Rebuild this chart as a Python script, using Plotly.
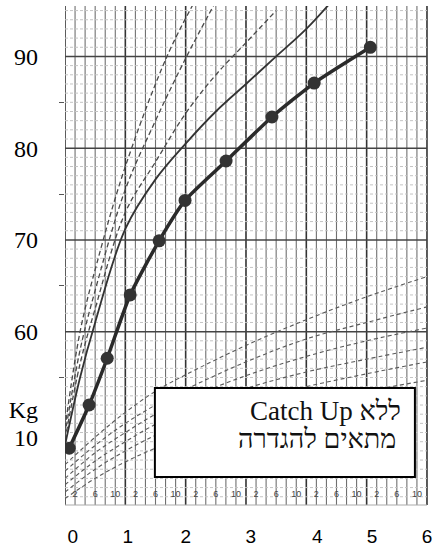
import plotly.graph_objects as go

# ---------------- data ----------------
# patient (ages in years, height in cm)
patient_age = [0.07, 0.40, 0.70, 1.08, 1.56, 1.99, 2.67, 3.43, 4.13, 5.06]
patient_height = [47.3, 52.0, 57.1, 64.0, 69.9, 74.3, 78.6, 83.4, 87.1, 91.0]

# height reference curves (upper section)
hD_age = [0, 0.25, 0.53, 1.0, 1.69, 2.15]
hD_val = [49.5, 60.0, 67.5, 78.0, 90.0, 96.0]
hA_age = [0, 0.25, 0.5, 1.0, 1.5, 2.0, 2.5]
hA_val = [48.8, 58.0, 64.5, 75.5, 83.0, 89.8, 96.0]
hB_age = [0, 0.25, 0.5, 1.0, 1.5, 2.0, 2.5, 3.0, 3.5]
hB_val = [48.2, 56.5, 62.5, 73.0, 78.5, 83.8, 88.0, 91.5, 95.0]
hC_age = [0, 0.25, 0.5, 1.0, 1.5, 2.0, 2.5, 3.0, 3.5, 4.0, 4.5]
hC_val = [47.6, 55.0, 61.0, 71.2, 76.6, 80.5, 84.0, 87.0, 90.0, 93.0, 96.6]

# weight reference curves (lower section, plotted on the chart's own scale)
w_age = [0, 0.5, 1, 1.5, 2, 3, 4, 5, 6]
w1 = [45.5, 48.5, 51.2, 53.5, 55.3, 58.5, 61.3, 63.8, 66.0]
w2 = [44.8, 47.6, 50.0, 52.0, 53.7, 56.7, 59.2, 61.0, 62.7]
w3 = [44.0, 46.8, 49.0, 51.0, 52.6, 55.2, 57.3, 59.0, 60.4]
w4 = [43.3, 45.9, 48.0, 49.9, 51.4, 53.8, 55.6, 57.0, 58.3]
w5 = [42.5, 45.0, 47.0, 48.7, 50.1, 52.3, 54.0, 55.4, 56.7]
w6 = [41.8, 44.0, 45.8, 47.3, 48.6, 50.6, 52.2, 53.5, 54.7]

# tick labels
year_labels = ["0", "1", "2", "3", "4", "5", "6"]
year_label_pos = [0.13, 1.04, 2.0, 3.08, 4.18, 5.09, 6.0]
y_labels = ["90", "80", "70", "60", "Kg", "10"]
y_label_pos = [90, 80, 70, 60, 51.46, 48.5]
month_labels = ["2", "6", "10"]

box_line1 = "Catch Up ללא"
box_line2 = "מתאים להגדרה"

# ---------------- figure ----------------
fig = go.Figure()

curve_style = dict(color="#4a4a4a", width=1.3, dash="5px,3px", shape="spline")
for ax, ay in [(hD_age, hD_val), (hA_age, hA_val), (hB_age, hB_val)]:
    fig.add_trace(go.Scatter(x=ax, y=ay, mode="lines", line=curve_style, hoverinfo="skip"))
fig.add_trace(go.Scatter(x=hC_age, y=hC_val, mode="lines",
                         line=dict(color="#333333", width=1.8, shape="spline"), hoverinfo="skip"))

for wv in [w1, w2, w3, w4, w5, w6]:
    fig.add_trace(go.Scatter(x=w_age, y=wv, mode="lines",
                             line=dict(color="#5a5a5a", width=1.1, dash="4px,3px", shape="spline"),
                             hoverinfo="skip"))

fig.add_trace(go.Scatter(x=patient_age, y=patient_height, mode="lines+markers",
                         line=dict(color="#2a2a2a", width=3.5, shape="spline", smoothing=0.6),
                         marker=dict(size=13, color="#333333")))

# small month labels in the bottom strip
m_x, m_t = [], []
for yr in range(6):
    for lab in month_labels:
        m_x.append(yr + int(lab) / 12)
        m_t.append(lab)
fig.add_trace(go.Scatter(x=m_x, y=[42.2] * len(m_x), mode="text", text=m_t,
                         textfont=dict(size=9, color="#444444", family="Liberation Sans"),
                         hoverinfo="skip"))

# grid
shapes = []
for k in range(37):
    xv = k / 6
    major = (k % 6 == 0)
    shapes.append(dict(type="line", xref="x", yref="paper", x0=xv, x1=xv, y0=0, y1=1,
                       line=dict(color="#333333" if major else "#707070",
                                 width=1.6 if major else 1.1), layer="below"))
for v in range(42, 96):
    if v % 10 == 0 and v >= 60:
        shapes.append(dict(type="line", xref="x", yref="y", x0=0, x1=6, y0=v, y1=v,
                           line=dict(color="#444444", width=1.5), layer="below"))
    else:
        shapes.append(dict(type="line", xref="x", yref="y", x0=0, x1=6, y0=v, y1=v,
                           line=dict(color="#c4c4c4", width=1, dash="3px,2px"), layer="below"))
shapes.append(dict(type="line", xref="x", yref="paper", x0=0, x1=6, y0=0, y1=0,
                   line=dict(color="#aaaaaa", width=1), layer="below"))
# text box
shapes.append(dict(type="rect", xref="x", yref="y", x0=1.49, x1=5.80, y0=44.15, y1=53.86,
                   fillcolor="white", line=dict(color="black", width=2), layer="above"))

fig.update_layout(
    width=438, height=550,
    margin=dict(l=65, r=8, t=6, b=45),
    plot_bgcolor="white", paper_bgcolor="white",
    showlegend=False,
    shapes=shapes,
    annotations=[
        dict(x=5.60, y=51.3, xref="x", yref="y", xanchor="right", yanchor="middle",
             text=box_line1, showarrow=False,
             font=dict(family="Liberation Serif", size=27, color="#111111")),
        dict(x=5.52, y=48.3, xref="x", yref="y", xanchor="right", yanchor="middle",
             text=box_line2, showarrow=False,
             font=dict(family="Liberation Serif", size=27, color="#111111")),
    ],
)
fig.update_xaxes(range=[0, 6.05], tickmode="array", tickvals=year_label_pos, ticktext=year_labels,
                 showgrid=False, zeroline=False, showline=False, ticks="",
                 ticklabelstandoff=18, automargin=False,
                 tickfont=dict(family="Liberation Sans", size=19, color="black"))
fig.update_yaxes(range=[41.1, 95.5], tickmode="array", tickvals=y_label_pos, ticktext=y_labels,
                 showgrid=False, zeroline=False, showline=False, ticks="",
                 ticklabelstandoff=26, automargin=False,
                 minor=dict(tickmode="array", tickvals=[55, 65, 75, 85], ticks="outside",
                            ticklen=5, tickcolor="#555555", showgrid=False),
                 tickfont=dict(family="Liberation Serif", size=24, color="black"))

fig.write_html("out.html", config={"displayModeBar": False},
               post_script="document.body.style.margin='0';")
